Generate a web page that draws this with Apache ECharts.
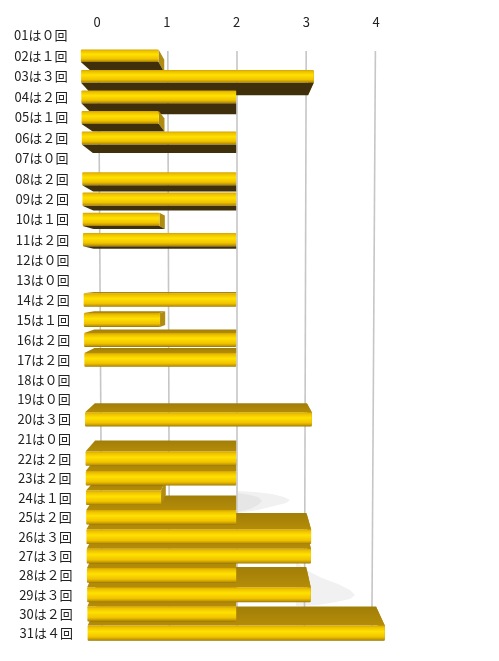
<!DOCTYPE html>
<html><head><meta charset="utf-8">
<style>html,body{margin:0;padding:0;background:#fff}#c{width:499px;height:661px}</style>
<script src="https://cdn.jsdelivr.net/npm/echarts@6/dist/echarts.min.js"></script>
</head><body><div id="c"></div>
<script>
const categories = ["01は０回","02は１回","03は３回","04は２回","05は１回","06は２回","07は０回","08は２回","09は２回","10は１回","11は２回","12は０回","13は０回","14は２回","15は１回","16は２回","17は２回","18は０回","19は０回","20は３回","21は０回","22は２回","23は２回","24は１回","25は２回","26は３回","27は３回","28は２回","29は３回","30は２回","31は４回"];
const counts = [0,1,3,2,1,2,0,2,2,1,2,0,0,2,1,2,2,0,0,3,0,2,2,1,2,3,3,2,3,2,4];
const axisTicks = [0,1,2,3,4];

const chart = echarts.init(document.getElementById('c'), null, {renderer:'canvas'});
const FONT = '"Noto Sans CJK JP"';
// perspective warp of the flat axes
const bow = i => 0.0265*i*(30-i);
const depthK = {1:0.9,2:1.15,3:1.2,4:1};
const grad = stops => ({type:'linear',x:0,y:0,x2:0,y2:1,colorStops:stops.map(s=>({offset:s[0],color:s[1]}))});
const frontFill = grad([[0,'#d2a400'],[0.14,'#eec200'],[0.4,'#ffe100'],[0.75,'#f1c300'],[0.92,'#c29800'],[1,'#94740a']]);
const topFill = grad([[0,'#a17e08'],[1,'#b48c08']]);

function bar(params, api){
  const i = params.dataIndex, v = api.value(0);
  if(!v) return null;
  const c = api.coord([2,i])[0]-0.3, unit = api.coord([3,i])[0]-api.coord([2,i])[0];
  const y = api.coord([0,i])[1] + bow(i);
  const h = 12.5 + i*0.09;
  const fs = (77.8-0.117*i)/unit, bs = (72-0.07*i)/unit;
  const fx0 = c-2*unit*fs, fx = c+(v-2)*unit*fs;
  const bx0 = c-2*unit*bs, bx = c+(v-2)*unit*bs;
  const t = y-h/2, b = y+h/2;
  const d = (12-i)*1.05*depthK[v];
  const z = 200-Math.abs(i-12)*4;
  const kids = [];
  kids.push({type:'polygon',z2:z,shape:{points:[[fx,t],[fx,b],[bx,b+d],[bx,t+d]]},style:{fill:'#b08c10'}});
  if(d>0){
    kids.push({type:'polygon',z2:z+1,shape:{points:[[fx0,b],[fx,b],[bx,b+d],[bx0,b+d]]},style:{fill:'#3f300b'}});
  }else{
    kids.push({type:'polygon',z2:z+1,shape:{points:[[fx0,t],[fx,t],[bx,t+d],[bx0,t+d]]},style:{fill:topFill}});
  }
  kids.push({type:'rect',z2:z+2,shape:{x:fx0,y:t,width:fx-fx0,height:h,r:1},style:{fill:frontFill}});
  return {type:'group',children:kids};
}
function wall(params, api){
  const v = api.value(0);
  const c = api.coord([2,0])[0]+0.5, unit = api.coord([3,0])[0]-api.coord([2,0])[0];
  const sTop = 69.2/unit, sBot = 67.4/unit;
  return {type:'line',shape:{x1:c+(v-2)*unit*sTop,y1:51,x2:c+(v-2)*unit*sBot,y2:640},
    style:{stroke:'#c6c6c6',lineWidth:1.6}};
}
function label(params, api){
  const i = params.dataIndex;
  const y = api.coord([0,i])[1] + bow(i);
  return {type:'text',style:{text:categories[i],x:14+5.5*i/30,y:y,align:'left',verticalAlign:'middle',
    font:'13px '+FONT,fill:'#222222'}};
}
chart.setOption({
  animation:false,
  backgroundColor:'#ffffff',
  graphic:[
    {type:'polygon',silent:true,z:0,shape:{points:[[238,491],[255,492],[272,494],[284,497],[290,500],[286,503],[274,506],[258,510],[238,513]]},style:{fill:'#f1f1f1'}},
    {type:'polygon',silent:true,z:0,shape:{points:[[238,493],[250,495],[258,497],[262,501],[258,505],[250,509],[238,512]]},style:{fill:'#e6e6e6'}},
    {type:'polygon',silent:true,z:0,shape:{points:[[296,562],[308,571],[322,578],[338,584],[350,590],[355,595],[350,599],[336,602],[318,605],[296,606]]},style:{fill:'#f1f1f1'}}
  ],
  grid:{left:97,width:279,top:25,height:618,containLabel:false},
  xAxis:{type:'value',position:'top',min:0,max:4,interval:1,
    axisLine:{show:false},axisTick:{show:false},splitLine:{show:false},
    axisLabel:{margin:-4,fontFamily:FONT,fontSize:13,color:'#222222'}},
  yAxis:{type:'category',inverse:true,data:categories,
    axisLine:{show:false},axisTick:{show:false},axisLabel:{show:false},splitLine:{show:false}},
  series:[
    {type:'custom',z:1,silent:true,coordinateSystem:'cartesian2d',renderItem:wall,clip:false,
      data:axisTicks.map(v=>[v,categories[0]]),encode:{x:0,y:1}},
    {type:'custom',z:3,silent:true,coordinateSystem:'cartesian2d',renderItem:bar,clip:false,
      data:counts.map((v,i)=>[v,categories[i]]),encode:{x:0,y:1}},
    {type:'custom',z:4,silent:true,coordinateSystem:'cartesian2d',renderItem:label,clip:false,
      data:counts.map((v,i)=>[v,categories[i]]),encode:{x:0,y:1}}
  ]
});
</script></body></html>
